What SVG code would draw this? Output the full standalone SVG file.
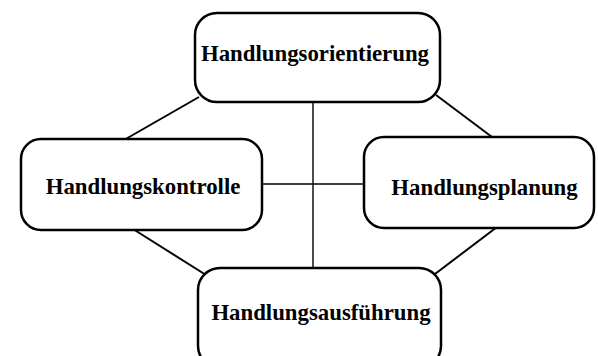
<svg xmlns="http://www.w3.org/2000/svg" width="598" height="356" viewBox="0 0 598 356">
<style>
.box{fill:#fff;stroke:#000;stroke-width:2.5}
.lbl{font-family:"Liberation Serif","Times New Roman",serif;font-weight:bold;font-size:22.8px;text-anchor:middle;fill:#000}
.diag{stroke:#000;stroke-width:2;fill:none}
.cross{stroke:#000;stroke-width:1.4;fill:none}
</style>
<rect width="598" height="356" fill="#fff"/>
<g id="connectors">
<line class="diag" x1="199" y1="97" x2="124" y2="140"/>
<line class="diag" x1="436" y1="95" x2="492" y2="137"/>
<line class="diag" x1="133" y1="229" x2="206" y2="275"/>
<line class="diag" x1="435" y1="274" x2="497" y2="227"/>
<line class="cross" x1="313" y1="102" x2="313" y2="268"/>
<line class="cross" x1="262" y1="184" x2="364" y2="184"/>
</g>
<g id="orientierung">
<rect class="box" x="195" y="13" width="245" height="89" rx="22"/>
<text class="lbl" x="315" y="61">Handlungsorientierung</text>
</g>
<g id="kontrolle">
<rect class="box" x="21" y="139" width="241" height="91" rx="20"/>
<text class="lbl" x="143" y="194">Handlungskontrolle</text>
</g>
<g id="planung">
<rect class="box" x="364" y="137" width="230" height="91" rx="20"/>
<text class="lbl" x="484.5" y="195">Handlungsplanung</text>
</g>
<g id="ausfuehrung">
<rect class="box" x="198" y="268" width="243" height="100" rx="22"/>
<text class="lbl" x="321" y="320">Handlungsausführung</text>
</g>
</svg>
